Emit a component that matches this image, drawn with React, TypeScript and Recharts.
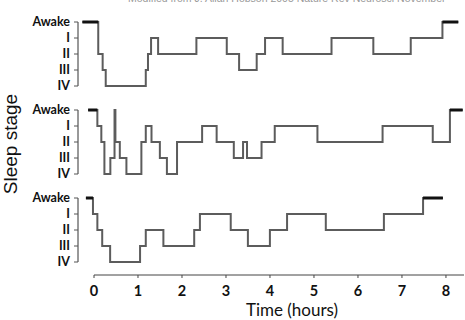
import { LineChart, Line, XAxis, YAxis } from "recharts";

const STAGES = ["IV", "III", "II", "I", "Awake"];
const HOUR_TICKS = [0, 1, 2, 3, 4, 5, 6, 7, 8];

// [hour, stage]: each stage holds until the next entry
const night1: [number, string][] = [
  [-0.26, "Awake"], [0.1, "II"], [0.2, "III"], [0.27, "IV"], [1.18, "III"],
  [1.23, "II"], [1.3, "I"], [1.46, "II"], [2.33, "I"], [3.02, "II"],
  [3.3, "III"], [3.7, "II"], [3.89, "I"], [4.29, "II"], [5.4, "I"],
  [6.35, "II"], [7.2, "I"], [7.92, "Awake"], [8.28, "Awake"],
];

const night2: [number, string][] = [
  [-0.13, "Awake"], [0.08, "I"], [0.17, "II"], [0.24, "IV"], [0.375, "III"],
  [0.47, "Awake"], [0.49, "II"], [0.59, "III"], [0.74, "IV"], [1.08, "II"],
  [1.18, "I"], [1.31, "II"], [1.5, "III"], [1.66, "IV"], [1.89, "II"],
  [2.46, "I"], [2.79, "II"], [3.18, "III"], [3.39, "II"], [3.48, "III"],
  [3.81, "II"], [4.11, "I"], [5.08, "II"], [6.56, "I"], [7.7, "II"],
  [8.09, "Awake"], [8.38, "Awake"],
];

const night3: [number, string][] = [
  [-0.18, "Awake"], [-0.02, "I"], [0.08, "II"], [0.19, "III"], [0.37, "IV"],
  [1.05, "III"], [1.18, "II"], [1.58, "III"], [2.28, "II"], [2.41, "I"],
  [3.11, "II"], [3.5, "III"], [4.0, "II"], [4.39, "I"], [5.27, "II"],
  [6.59, "I"], [7.48, "Awake"], [7.93, "Awake"],
];

// awake spells at start and end of the night are drawn heavier
const toRows = (night: [number, string][]) =>
  night.map(([t, stage], i) => {
    const s = STAGES.indexOf(stage);
    let awake: number | null = null;
    if (i === 0 || i >= night.length - 2) awake = s;
    if (i === 1) awake = STAGES.indexOf(night[0][1]);
    return { t, s, awake };
  });

const font = "Lato, 'Open Sans', sans-serif";

function Panel({ night, top }: { night: [number, string][]; top: number }) {
  return (
    <div style={{ position: "absolute", left: 0, top: top - 8 }}>
      <LineChart width={465} height={80} data={toRows(night)} margin={{ top: 8, right: 1, bottom: 8, left: 0 }}>
        <XAxis type="number" dataKey="t" domain={[-0.36, 8.41]} hide />
        <YAxis
          type="number"
          domain={[0, 4]}
          ticks={[0, 1, 2, 3, 4]}
          interval={0}
          tickFormatter={(v) => STAGES[v]}
          width={78}
          tickSize={4}
          tickMargin={4}
          axisLine={{ stroke: "#333" }}
          tickLine={{ stroke: "#555" }}
          tick={{ fill: "#111", fontSize: 12.5, fontWeight: 700, fontFamily: font }}
        />
        <Line type="stepAfter" dataKey="s" stroke="#5c5c5c" strokeWidth={2} dot={false} isAnimationActive={false} />
        <Line type="stepAfter" dataKey="awake" stroke="#111" strokeWidth={3} dot={false} isAnimationActive={false} />
      </LineChart>
    </div>
  );
}

export default function App() {
  return (
    <div
      style={{
        position: "absolute",
        left: 0,
        top: 0,
        width: 465,
        height: 320,
        background: "#fff",
        overflow: "hidden",
      }}
    >
      <div
        style={{
          position: "absolute",
          left: 128,
          top: -8,
          fontSize: 10.5,
          color: "#999",
          whiteSpace: "nowrap",
          fontFamily: "'Liberation Sans', Arial, sans-serif",
        }}
      >
        Modified from J. Allan Hobson 2005 Nature Rev Neurosci November
      </div>

      <Panel night={night1} top={22} />
      <Panel night={night2} top={110} />
      <Panel night={night3} top={198} />

      <div style={{ position: "absolute", left: 0, top: 255 }}>
        <LineChart width={465} height={45} data={HOUR_TICKS.map((t) => ({ t }))} margin={{ top: 0, right: 1, bottom: 0, left: 94 }}>
          <XAxis
            type="number"
            dataKey="t"
            domain={[0, 8.41]}
            ticks={HOUR_TICKS}
            interval={0}
            height={25}
            tickSize={3}
            tickMargin={8}
            axisLine={{ stroke: "#444" }}
            tickLine={{ stroke: "#444" }}
            tick={{ fill: "#111", fontSize: 14.5, fontWeight: 700, fontFamily: font }}
          />
        </LineChart>
      </div>

      <div
        style={{
          position: "absolute",
          left: 292,
          top: 300,
          transform: "translateX(-50%)",
          fontSize: 17,
          lineHeight: "19px",
          color: "#111",
          whiteSpace: "nowrap",
          fontFamily: font,
        }}
      >
        Time (hours)
      </div>

      <div
        style={{
          position: "absolute",
          left: 10,
          top: 144,
          transform: "translate(-50%, -50%) rotate(-90deg)",
          fontSize: 19,
          lineHeight: "19px",
          color: "#111",
          whiteSpace: "nowrap",
          fontFamily: "'Liberation Sans', Arial, sans-serif",
        }}
      >
        Sleep stage
      </div>
    </div>
  );
}
